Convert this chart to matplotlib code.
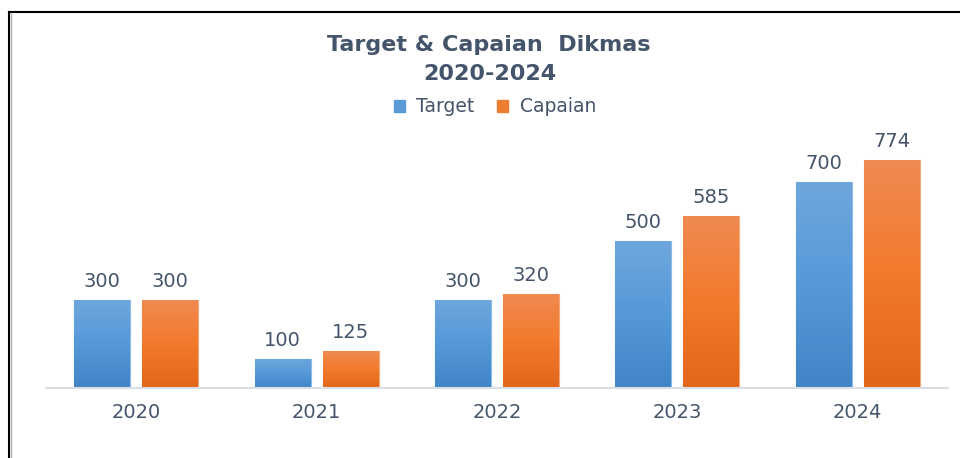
import matplotlib
matplotlib.use("Agg")
import matplotlib.pyplot as plt
import numpy as np
from matplotlib.colors import LinearSegmentedColormap
from matplotlib.lines import Line2D
from matplotlib.patches import Rectangle

years = ["2020", "2021", "2022", "2023", "2024"]
target = [300, 100, 300, 500, 700]
capaian = [300, 125, 320, 585, 774]
series_names = ["Target", "Capaian"]

W, H = 960, 458
fig = plt.figure(figsize=(W / 100, H / 100), dpi=100)
fig.patch.set_facecolor("white")

text_color = "#44546a"
font = ["DejaVu Sans"]

# axes in pixel coords
left, right, bottom_px, top_px = 46, 948, 388, 130
ax = fig.add_axes([left / W, (H - bottom_px) / H, (right - left) / W, (bottom_px - top_px) / H])
px_per_unit = 0.294
ax.set_ylim(0, (bottom_px - top_px) / px_per_unit)
ax.set_xlim(-0.5, len(years) - 0.5)

x = np.arange(len(years))
bw = 0.31
gap = 0.067
off = (bw + gap) / 2

blue_cmap = LinearSegmentedColormap.from_list("b", ["#4285c6", "#5599d9", "#6fa7dd"])
orange_cmap = LinearSegmentedColormap.from_list("o", ["#e2661a", "#f27a2c", "#f08a52"])

bars_t = ax.bar(x - off, target, bw, color="#5b9bd5", edgecolor="#8dbbe6", linewidth=0.8, zorder=2)
bars_c = ax.bar(x + off, capaian, bw, color="#ed7d31", edgecolor="#f5a877", linewidth=0.8, zorder=2)

grad = np.linspace(0, 1, 256).reshape(-1, 1)
for bars, cmap in ((bars_t, blue_cmap), (bars_c, orange_cmap)):
    for b in bars:
        x0, w, h = b.get_x(), b.get_width(), b.get_height()
        im = ax.imshow(grad, cmap=cmap, origin="lower", aspect="auto",
                       extent=[x0, x0 + w, 0, h], zorder=2.5)
        im.set_clip_path(b)
ax.set_xlim(-0.5, len(years) - 0.5)
ax.set_ylim(0, (bottom_px - top_px) / px_per_unit)

for bars, vals in ((bars_t, target), (bars_c, capaian)):
    for b, v in zip(bars, vals):
        ax.annotate(str(v), (b.get_x() + b.get_width() / 2, v), xytext=(0, 9),
                    textcoords="offset pixels", ha="center", va="bottom",
                    fontsize=14, color=text_color, family=font)

for s in ["top", "right", "left"]:
    ax.spines[s].set_visible(False)
ax.spines["bottom"].set_color("#d9dde4")
ax.spines["bottom"].set_linewidth(1.5)
ax.set_yticks([])
ax.set_xticks(x)
ax.set_xticklabels(years, fontsize=14, color=text_color, family=font)
ax.tick_params(axis="x", length=0, pad=11)

fig.text(489 / W, 1 - 45 / H, "Target & Capaian  Dikmas", ha="center", va="center",
         fontsize=16, fontweight="bold", color=text_color, family=font)
fig.text(490 / W, 1 - 74 / H, "2020-2024", ha="center", va="center",
         fontsize=16, fontweight="bold", color=text_color, family=font)

handles = [Rectangle((0, 0), 1, 1, color="#5b9bd5"), Rectangle((0, 0), 1, 1, color="#ed7d31")]
fig.legend(handles, series_names, loc="center", bbox_to_anchor=(495 / W, 1 - 107 / H),
           ncol=2, frameon=False, handlelength=0.6, handleheight=0.6, handletextpad=0.6,
           columnspacing=1.2, prop={"family": font, "size": 13.5}, labelcolor=text_color)

# border lines
fig.add_artist(Line2D([9 / W, 9 / W], [0, 1 - 12 / H], transform=fig.transFigure, color="black", lw=1.5))
fig.add_artist(Line2D([9 / W, 1], [1 - 12 / H, 1 - 12 / H], transform=fig.transFigure, color="black", lw=1.5))
fig.add_artist(Line2D([11 / W, 11 / W], [0, 1 - 13.5 / H], transform=fig.transFigure, color="#b0b0b0", lw=1.0))

fig.savefig("out.png", dpi=100)
